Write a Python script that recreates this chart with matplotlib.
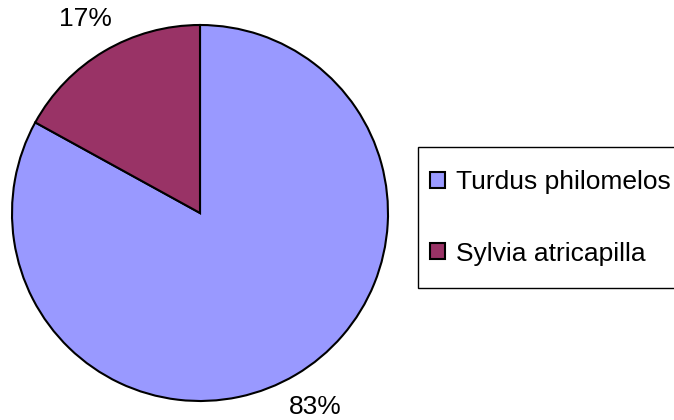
import matplotlib.pyplot as plt
from matplotlib.patches import Rectangle

plt.rcParams["font.family"] = ["Liberation Sans", "DejaVu Sans"]

species = ["Turdus philomelos", "Sylvia atricapilla"]
shares = [83, 17]
colors = ["#9999ff", "#993366"]

fig = plt.figure(figsize=(6.74, 4.2), dpi=100)
ax = fig.add_axes([12 / 674, 19 / 420, 376 / 674, 376 / 420])

wedges, texts, autotexts = ax.pie(
    shares,
    colors=colors,
    startangle=90,
    counterclock=False,
    radius=1.0,
    autopct="%d%%",
    pctdistance=1.20,
    wedgeprops=dict(edgecolor="black", linewidth=1.5),
    textprops=dict(fontsize=19, color="black"),
)
ax.set_xlim(-1, 1)
ax.set_ylim(-1, 1)
ax.set_aspect("equal")

# legend box runs off the right edge, like the original
frame = Rectangle(
    (418 / 674, 1 - 288 / 420), 0.5, 141 / 420,
    transform=fig.transFigure, facecolor="white", edgecolor="black", linewidth=1.0,
)
fig.patches.append(frame)

leg = fig.legend(
    wedges,
    species,
    loc="upper left",
    bbox_to_anchor=(430 / 674, 1 - 170 / 420),
    fontsize=19,
    frameon=False,
    handlelength=0.55,
    handleheight=0.55,
    handletextpad=0.45,
    labelspacing=1.8,
    borderpad=0,
    borderaxespad=0,
)
for h in leg.legend_handles:
    h.set_edgecolor("black")
    h.set_linewidth(1.5)

fig.savefig("out.png", dpi=100)
